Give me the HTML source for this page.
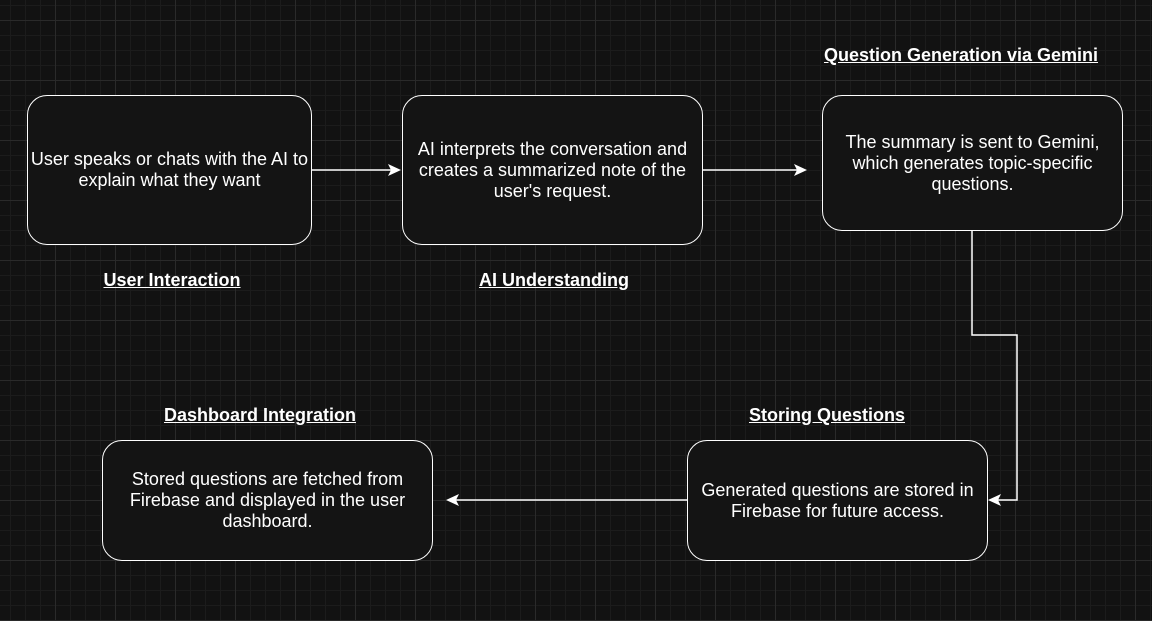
<!DOCTYPE html>
<html><head><style>
body{margin:0;width:1152px;height:621px;overflow:hidden;background:#121212;font-family:"Liberation Sans",sans-serif;position:relative;
background-image:
linear-gradient(#2a2a2a 1px,transparent 1px),linear-gradient(90deg,#2a2a2a 1px,transparent 1px),
linear-gradient(#1c1c1c 1px,transparent 1px),linear-gradient(90deg,#1c1c1c 1px,transparent 1px);
background-size:60px 60px,60px 60px,15px 15px,15px 15px;
background-position:0 20px,55px 0,0 5px,10px 0;}
.b{position:absolute;box-sizing:border-box;border:1.5px solid #fff;border-radius:20px;background:#141414;color:#fff;font-size:18px;line-height:21px;display:flex;align-items:center;justify-content:center;text-align:center;}
.l{position:absolute;color:#fff;font-weight:bold;font-size:18px;text-decoration:underline;transform:translateX(-50%);white-space:nowrap;}
svg{position:absolute;left:0;top:0}
</style></head><body>
<svg width="1152" height="621">
<g stroke="#fff" stroke-width="1.5" fill="none">
<line x1="311" y1="170" x2="394" y2="170"/>
<line x1="702" y1="170" x2="800" y2="170"/>
<polyline points="972,230 972,335 1017,335 1017,500 995,500"/>
<line x1="687" y1="500" x2="453" y2="500"/>
</g>
<g fill="#fff">
<path d="M401,170 L388,164 L391,170 L388,176Z"/>
<path d="M807,170 L794,164 L797,170 L794,176Z"/>
<path d="M988,500 L1001,494 L998,500 L1001,506Z"/>
<path d="M446,500 L459,494 L456,500 L459,506Z"/>
</g>
</svg>
<div class="b" style="left:27px;top:95px;width:285px;height:150px;">User speaks or chats with the AI to<br>explain what they want</div>
<div class="b" style="left:402px;top:95px;width:301px;height:150px;padding:0 6px">AI interprets the conversation and creates a summarized note of the user's request.</div>
<div class="b" style="left:822px;top:95px;width:301px;height:136px;padding:0 18px">The summary is sent to Gemini, which generates topic-specific questions.</div>
<div class="b" style="left:102px;top:440px;width:331px;height:121px;padding:0 18px">Stored questions are fetched from Firebase and displayed in the user dashboard.</div>
<div class="b" style="left:687px;top:440px;width:301px;height:121px;padding:0 6px">Generated questions are stored in Firebase for future access.</div>
<div class="l" style="left:172px;top:270px">User Interaction</div>
<div class="l" style="left:554px;top:270px">AI Understanding</div>
<div class="l" style="left:961px;top:45px">Question Generation via Gemini</div>
<div class="l" style="left:260px;top:405px">Dashboard Integration</div>
<div class="l" style="left:827px;top:405px">Storing Questions</div>
</body></html>
